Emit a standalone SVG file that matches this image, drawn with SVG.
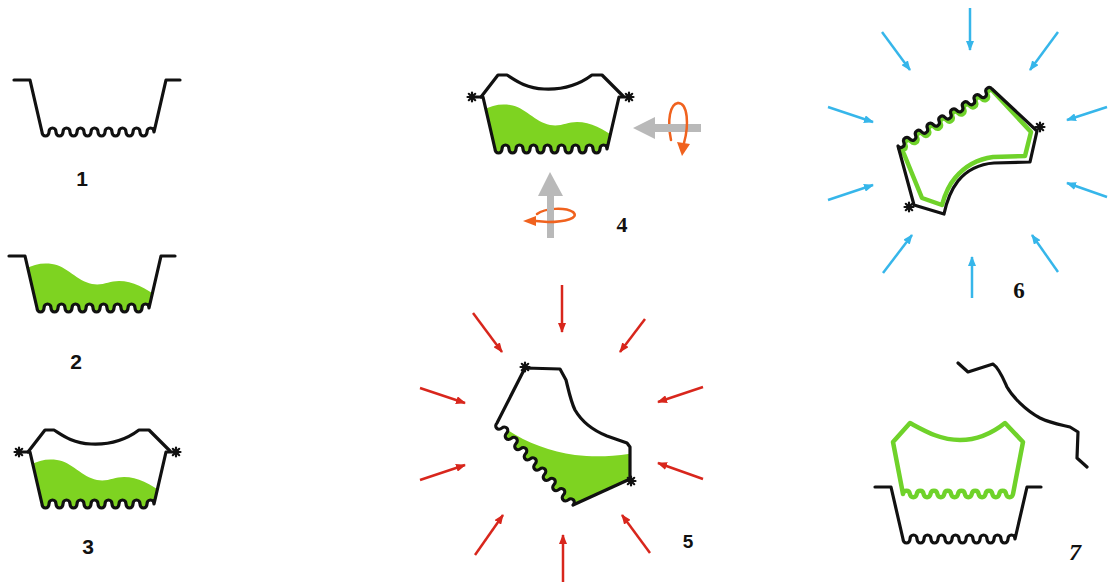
<svg xmlns="http://www.w3.org/2000/svg" width="1108" height="582" viewBox="0 0 1108 582">
<style>
.ln{fill:none;stroke:#111;stroke-width:3.2;stroke-linejoin:round;stroke-linecap:round}
.gr{fill:#7ed321}
.gl{fill:none;stroke:#6fd22a;stroke-width:4.5;stroke-linejoin:round;stroke-linecap:round}
.red{stroke:#d8261c;stroke-width:2.5;marker-end:url(#ah-red)}
.blue{stroke:#36b6ea;stroke-width:2.5;marker-end:url(#ah-blue)}
.or{fill:none;stroke:#f0621e;stroke-width:2.5;stroke-linecap:round}
.grey{fill:#b9b9b9}
.lbl{font-family:"Liberation Sans",Arial,sans-serif;font-weight:bold;fill:#111;text-anchor:middle}
.lbs{font-family:"Liberation Serif","Times New Roman",serif;font-weight:bold;fill:#111;text-anchor:middle}
</style>
<defs>
  <marker id="ah-red" viewBox="0 0 10 8" refX="9" refY="4" markerWidth="10" markerHeight="8" markerUnits="userSpaceOnUse" orient="auto"><path d="M0,0 L10,4 L0,8 Z" fill="#d8261c"/></marker>
  <marker id="ah-blue" viewBox="0 0 10 8" refX="9" refY="4" markerWidth="10" markerHeight="8" markerUnits="userSpaceOnUse" orient="auto"><path d="M0,0 L10,4 L0,8 Z" fill="#36b6ea"/></marker>
  <g id="star" stroke="#111" stroke-width="2.2" stroke-linecap="round"><path d="M-4.5,0H4.5M0,-4.5V4.5M-3.2,-3.2L3.2,3.2M-3.2,3.2L3.2,-3.2"/></g>
  <!-- inside of the basin, used to trim the liquid -->
  <clipPath id="basin-in"><path d="M30,80 L42,132 a3.5,4 0 0 0 7,0 a3.5,4 0 0 1 7,0 a3.5,4 0 0 0 7,0 a3.5,4 0 0 1 7,0 a3.5,4 0 0 0 7,0 a3.5,4 0 0 1 7,0 a3.5,4 0 0 0 7,0 a3.5,4 0 0 1 7,0 a3.5,4 0 0 0 7,0 a3.5,4 0 0 1 7,0 a3.5,4 0 0 0 7,0 a3.5,4 0 0 1 7,0 a3.5,4 0 0 0 7,0 a3.5,4 0 0 1 7,0 a3.5,4 0 0 0 7,0 a3.5,4 0 0 1 7,0 L166,80 Z"/></clipPath>
  <clipPath id="tilt-in"><path d="M525,368 L560,369 L566,380 C569,392 571,402 575,410 C582,422 592,430 607,436 L627,443 L630,447 L630,479 L573,505 a3.5,4 47.2 0 0 -4.75,-5.125 a3.5,4 47.2 0 1 -4.75,-5.125 a3.5,4 47.2 0 0 -4.75,-5.125 a3.5,4 47.2 0 1 -4.75,-5.125 a3.5,4 47.2 0 0 -4.75,-5.125 a3.5,4 47.2 0 1 -4.75,-5.125 a3.5,4 47.2 0 0 -4.75,-5.125 a3.5,4 47.2 0 1 -4.75,-5.125 a3.5,4 47.2 0 0 -4.75,-5.125 a3.5,4 47.2 0 1 -4.75,-5.125 a3.5,4 47.2 0 0 -4.75,-5.125 a3.5,4 47.2 0 1 -4.75,-5.125 a3.5,4 47.2 0 0 -4.75,-5.125 a3.5,4 47.2 0 1 -4.75,-5.125 a3.5,4 47.2 0 0 -4.75,-5.125 a3.5,4 47.2 0 1 -4.75,-5.125 Z"/></clipPath>
  <path id="liquid" class="gr" clip-path="url(#basin-in)" d="M20,102 C30,90 44,86 57,88 C72,90 82,105 97,108 C108,110 114,105 124,105 C138,105 150,112 165,122 L175,160 L15,160 Z"/>
  <path id="basin" class="ln" d="M14,80 L30,80 L42,132 a3.5,4 0 0 0 7,0 a3.5,4 0 0 1 7,0 a3.5,4 0 0 0 7,0 a3.5,4 0 0 1 7,0 a3.5,4 0 0 0 7,0 a3.5,4 0 0 1 7,0 a3.5,4 0 0 0 7,0 a3.5,4 0 0 1 7,0 a3.5,4 0 0 0 7,0 a3.5,4 0 0 1 7,0 a3.5,4 0 0 0 7,0 a3.5,4 0 0 1 7,0 a3.5,4 0 0 0 7,0 a3.5,4 0 0 1 7,0 a3.5,4 0 0 0 7,0 a3.5,4 0 0 1 7,0 L166,80 L180,80"/>
  <g id="mould">
    <path class="ln" d="M18,80 L30,80 L42,132 a3.5,4 0 0 0 7,0 a3.5,4 0 0 1 7,0 a3.5,4 0 0 0 7,0 a3.5,4 0 0 1 7,0 a3.5,4 0 0 0 7,0 a3.5,4 0 0 1 7,0 a3.5,4 0 0 0 7,0 a3.5,4 0 0 1 7,0 a3.5,4 0 0 0 7,0 a3.5,4 0 0 1 7,0 a3.5,4 0 0 0 7,0 a3.5,4 0 0 1 7,0 a3.5,4 0 0 0 7,0 a3.5,4 0 0 1 7,0 a3.5,4 0 0 0 7,0 a3.5,4 0 0 1 7,0 L166,80 L178,80"/>
    <path class="ln" d="M28,80 L45,58 L54,58 C62,63 72,71 91,72 C111,73 127,67 139,58 L149,58 L170,79"/>
    <use href="#star" x="19" y="80"/>
    <use href="#star" x="176" y="80"/>
  </g>
</defs>
<rect width="1108" height="582" fill="#fff"/>

<!-- 1: empty basin -->
<g id="step1">
  <use href="#basin"/>
  <text class="lbl" x="82" y="186" font-size="21">1</text>
</g>

<!-- 2: basin filled -->
<g id="step2">
  <g transform="translate(-5,176)">
    <use href="#liquid"/>
    <use href="#basin"/>
  </g>
  <text class="lbl" x="76" y="369" font-size="21">2</text>
</g>

<!-- 3: closed mould -->
<g id="step3">
  <g transform="translate(0,372)">
    <use href="#liquid"/>
    <use href="#mould"/>
  </g>
  <text class="lbl" x="88" y="554" font-size="21">3</text>
</g>

<!-- 4: mould with rotation axes -->
<g id="step4">
  <g transform="translate(453,17)">
    <use href="#liquid"/>
    <use href="#mould"/>
  </g>
  <!-- horizontal axis -->
  <path class="or" d="M671,140 C667,120 670,104 678,103"/>
  <path class="grey" d="M701,124 L655,124 L655,117 L633,128 L655,139 L655,132 L701,132 Z"/>
  <path class="or" d="M678,103 C688,103 689,125 684,143"/>
  <path d="M677,142 L690,144 L682,156 Z" fill="#f0621e"/>
  <!-- vertical axis -->
  <path class="or" d="M537,214 C545,208 565,207 573,212"/>
  <path class="grey" d="M547,238 L547,196 L538,196 L550,172 L563,196 L554,196 L554,238 Z"/>
  <path class="or" d="M573,212 C580,218 565,222 548,222 L536,221"/>
  <path d="M536,216 L536,226 L523,221 Z" fill="#f0621e"/>
  <text class="lbs" x="622" y="232" font-size="22">4</text>
</g>

<!-- 5: tilted mould under heat -->
<g id="step5">
  <path class="gr" clip-path="url(#tilt-in)" d="M506,429 C525,442 550,452 575,455 C595,457 612,457 640,452 L640,530 L480,530 Z"/>
  <path class="ln" d="M525,368 L560,369 L566,380 C569,392 571,402 575,410 C582,422 592,430 607,436 L627,443 L630,447 L630,479 L573,505 a3.5,4 47.2 0 0 -4.75,-5.125 a3.5,4 47.2 0 1 -4.75,-5.125 a3.5,4 47.2 0 0 -4.75,-5.125 a3.5,4 47.2 0 1 -4.75,-5.125 a3.5,4 47.2 0 0 -4.75,-5.125 a3.5,4 47.2 0 1 -4.75,-5.125 a3.5,4 47.2 0 0 -4.75,-5.125 a3.5,4 47.2 0 1 -4.75,-5.125 a3.5,4 47.2 0 0 -4.75,-5.125 a3.5,4 47.2 0 1 -4.75,-5.125 a3.5,4 47.2 0 0 -4.75,-5.125 a3.5,4 47.2 0 1 -4.75,-5.125 a3.5,4 47.2 0 0 -4.75,-5.125 a3.5,4 47.2 0 1 -4.75,-5.125 a3.5,4 47.2 0 0 -4.75,-5.125 a3.5,4 47.2 0 1 -4.75,-5.125 Z"/>
  <use href="#star" x="525" y="367"/>
  <use href="#star" x="631" y="481"/>
  <text class="lbl" x="688" y="548" font-size="19">5</text>
</g>

<!-- 6: turned mould cooling -->
<g id="step6">
  <path class="gl" d="M993.5,91.6 a3.5,4 -31.2 0 0 -5.875,3.5625 a3.5,4 -31.2 0 1 -5.875,3.5625 a3.5,4 -31.2 0 0 -5.875,3.5625 a3.5,4 -31.2 0 1 -5.875,3.5625 a3.5,4 -31.2 0 0 -5.875,3.5625 a3.5,4 -31.2 0 1 -5.875,3.5625 a3.5,4 -31.2 0 0 -5.875,3.5625 a3.5,4 -31.2 0 1 -5.875,3.5625 a3.5,4 -31.2 0 0 -5.875,3.5625 a3.5,4 -31.2 0 1 -5.875,3.5625 a3.5,4 -31.2 0 0 -5.875,3.5625 a3.5,4 -31.2 0 1 -5.875,3.5625 a3.5,4 -31.2 0 0 -5.875,3.5625 a3.5,4 -31.2 0 1 -5.875,3.5625 a3.5,4 -31.2 0 0 -5.875,3.5625 a3.5,4 -31.2 0 1 -5.875,3.5625 L904,154 L922,198 L942,205 C945,194 949,185 955,178 C965,166 978,159 993,157 L1025,156 L1031,132 Z"/>
  <path class="ln" d="M992,89 a3.5,4 -31.2 0 0 -5.875,3.5625 a3.5,4 -31.2 0 1 -5.875,3.5625 a3.5,4 -31.2 0 0 -5.875,3.5625 a3.5,4 -31.2 0 1 -5.875,3.5625 a3.5,4 -31.2 0 0 -5.875,3.5625 a3.5,4 -31.2 0 1 -5.875,3.5625 a3.5,4 -31.2 0 0 -5.875,3.5625 a3.5,4 -31.2 0 1 -5.875,3.5625 a3.5,4 -31.2 0 0 -5.875,3.5625 a3.5,4 -31.2 0 1 -5.875,3.5625 a3.5,4 -31.2 0 0 -5.875,3.5625 a3.5,4 -31.2 0 1 -5.875,3.5625 a3.5,4 -31.2 0 0 -5.875,3.5625 a3.5,4 -31.2 0 1 -5.875,3.5625 a3.5,4 -31.2 0 0 -5.875,3.5625 a3.5,4 -31.2 0 1 -5.875,3.5625 L914,205 L944,214 C947,200 951,190 958,181 C967,170 980,164 994,163 L1030,162 L1037,131 Z"/>
  <use href="#star" x="1040" y="127"/>
  <use href="#star" x="909" y="207"/>
  <text class="lbs" x="1019" y="298" font-size="23">6</text>
</g>

<!-- 7: opened mould with cast part -->
<g id="step7">
  <use href="#basin" transform="translate(861,407)"/>
  <path class="gl" d="M893,442 L910,423 C925,431 940,440 960,440 C980,440 995,431 1005,423 L1023,442 L1013,494 a3.5,4 0 0 1 -6.875,0 a3.5,4 0 0 0 -6.875,0 a3.5,4 0 0 1 -6.875,0 a3.5,4 0 0 0 -6.875,0 a3.5,4 0 0 1 -6.875,0 a3.5,4 0 0 0 -6.875,0 a3.5,4 0 0 1 -6.875,0 a3.5,4 0 0 0 -6.875,0 a3.5,4 0 0 1 -6.875,0 a3.5,4 0 0 0 -6.875,0 a3.5,4 0 0 1 -6.875,0 a3.5,4 0 0 0 -6.875,0 a3.5,4 0 0 1 -6.875,0 a3.5,4 0 0 0 -6.875,0 a3.5,4 0 0 1 -6.875,0 a3.5,4 0 0 0 -6.875,0 Z"/>
  <path class="ln" d="M958,363 L968,372 L993,364 C999,368 1003,378 1007,387 C1012,396 1025,410 1040,418 C1050,423 1062,425 1070,427 L1078,432 L1077,458 L1087,467"/>
  <text class="lbs" x="1075" y="560" font-size="24" font-style="italic">7</text>
</g>

<!-- heat and cooling arrows -->
<g id="connectors">
  <g class="red">
    <line x1="562" y1="285" x2="562" y2="332"/>
    <line x1="645" y1="319" x2="620" y2="352"/>
    <line x1="703" y1="387" x2="658" y2="402"/>
    <line x1="703" y1="479" x2="658" y2="463"/>
    <line x1="650" y1="553" x2="622" y2="515"/>
    <line x1="563" y1="582" x2="563" y2="535"/>
    <line x1="475" y1="555" x2="503" y2="515"/>
    <line x1="420" y1="480" x2="465" y2="465"/>
    <line x1="420" y1="388" x2="465" y2="403"/>
    <line x1="473" y1="313" x2="502" y2="352"/>
  </g>
  <g class="blue">
    <line x1="970" y1="8" x2="970" y2="50"/>
    <line x1="1058" y1="32" x2="1030" y2="70"/>
    <line x1="1107" y1="107" x2="1067" y2="120"/>
    <line x1="1107" y1="197" x2="1067" y2="183"/>
    <line x1="1058" y1="272" x2="1032" y2="235"/>
    <line x1="972" y1="298" x2="972" y2="257"/>
    <line x1="883" y1="273" x2="912" y2="235"/>
    <line x1="828" y1="200" x2="873" y2="185"/>
    <line x1="828" y1="107" x2="873" y2="122"/>
    <line x1="882" y1="32" x2="910" y2="70"/>
  </g>
</g>
</svg>
